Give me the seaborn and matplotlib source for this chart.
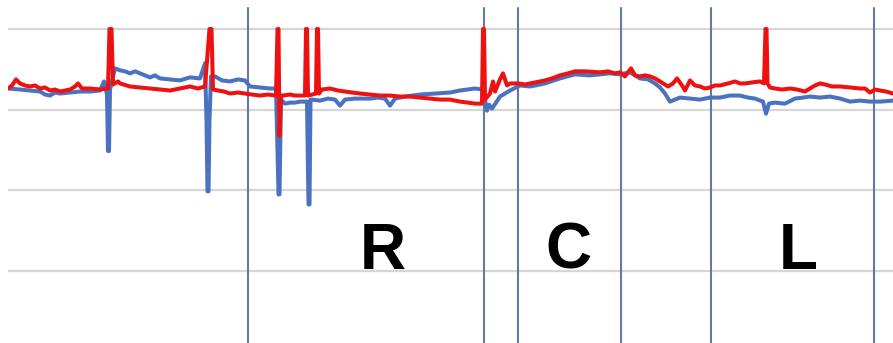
import matplotlib
matplotlib.use("Agg")
import matplotlib.pyplot as plt
import seaborn as sns
import pandas as pd

# ---- data (time index, amplitude) ----
red_t = [8, 12, 16, 20, 25, 30, 35, 40, 45, 50, 55, 60, 65, 70, 75, 78, 82, 90, 100, 108,
         109.5, 110.5, 111.5, 113, 118, 120, 130, 140, 150, 160, 170, 180, 190, 198, 205,
         209.5, 210.5, 211.5, 213, 218, 224, 230, 238, 245, 252, 260, 268, 276,
         277.5, 278.5, 279.5, 281, 283, 290, 295, 300, 305, 306, 307, 308,
         316, 317, 318, 319, 322, 330, 338, 345, 352, 360, 370, 380, 390, 400, 410, 420, 430, 440,
         450, 460, 468, 475, 482, 483, 484, 485,
         490, 493, 495, 500, 503, 507, 510, 518, 525, 530, 540, 545, 552, 560, 568, 575, 585, 600,
         608, 615, 620, 625, 631, 635, 640, 645, 650, 655, 660, 668, 673, 677, 682, 685, 690,
         695, 700, 705, 710, 715, 720, 728, 735, 740, 745, 752, 760, 764, 765.5, 766.5, 767.5,
         770, 775, 782, 790, 797, 805, 815, 820, 825, 832, 840, 850, 860, 865, 870, 875, 880,
         886, 893]
red_v = [181, 184, 190, 186, 184, 183, 184, 181, 182, 179, 180, 178, 179, 180, 183, 186, 181, 181, 180, 181,
         240, 240, 240, 185, 188, 186, 183, 182, 181, 180, 179, 181, 183, 181, 183,
         240, 240, 240, 180, 179, 178, 176, 177, 176, 175, 174, 175, 174,
         240, 240, 134, 174, 174, 175, 174, 174, 174, 240, 240, 174,
         176, 240, 240, 176, 180, 181, 179, 178, 177, 176, 175, 174, 174, 173, 173, 172, 171, 170,
         170, 168, 167, 166, 166, 240, 240, 170,
         176, 188, 178, 190, 196, 184, 186, 186, 185, 186, 188, 189, 191, 194, 196, 198, 198, 197,
         198, 196, 197, 193, 201, 194, 193, 194, 193, 191, 188, 183, 186, 191, 184, 179, 189,
         184, 183, 181, 182, 184, 184, 186, 188, 186, 186, 187, 188, 186, 240, 240, 186,
         182, 181, 180, 181, 180, 178, 184, 186, 185, 183, 183, 182, 181, 181, 177, 180, 179,
         178, 176]

blue_t = [8, 20, 30, 40, 45, 50, 55, 60, 70, 80, 90, 100, 104, 107, 108, 109, 110, 115, 120,
          125, 130, 135, 140, 150, 155, 160, 170, 180, 190, 200, 205,
          206.5, 207.5, 208.5, 209.5, 211, 215, 222, 230, 238, 245, 250, 260, 270, 276,
          277.5, 278.5, 279.5, 281, 285, 290, 295, 300, 305, 307,
          308.5, 309.5, 310.5, 312, 320, 328, 335, 340, 345, 355, 370, 378, 385, 390, 395, 405,
          420, 435, 450, 460, 475, 482, 485, 487, 489, 492, 500, 505, 510, 520, 530, 545, 560,
          575, 590, 600, 610, 620, 630, 640, 648, 655, 660, 665, 670, 675, 680, 690, 700, 710,
          720, 730, 740, 748, 755, 763, 766, 769, 775, 785, 795, 803, 810, 820, 830, 840, 850,
          860, 870, 880, 893]
blue_v = [181, 180, 179, 178, 175, 174, 177, 176, 177, 178, 178, 179, 188, 175, 119, 119, 180, 201, 199,
          198, 196, 198, 196, 192, 194, 191, 190, 189, 192, 191, 206,
          150, 79, 79, 150, 193, 193, 189, 188, 190, 189, 183, 182, 181, 181,
          120, 76, 76, 170, 166, 167, 167, 168, 168, 168,
          66, 66, 170, 170, 169, 171, 170, 164, 170, 171, 171, 172, 171, 164, 171, 173,
          175, 176, 177, 179, 181, 180, 170, 159, 165, 161, 173, 176, 179, 184, 183, 186, 191,
          195, 194, 195, 196, 195, 197, 191, 190, 186, 182, 176, 168, 170, 172, 171, 170, 172,
          172, 174, 174, 172, 171, 168, 156, 166, 167, 166, 171, 172, 173, 172, 173, 171, 168,
          169, 168, 168, 169]

grid_levels = [0, 80, 160, 240]
section_bounds = [248, 484, 518, 621, 711, 874]
section_labels = ["R", "C", "L"]
label_pos = [383, 568, 798]

df = pd.concat([
    pd.DataFrame({"t": blue_t, "v": blue_v, "s": "blue"}),
    pd.DataFrame({"t": red_t, "v": red_v, "s": "red"}),
])

sns.set_theme(style="white")
plt.rcParams['font.family'] = ['Liberation Sans', 'DejaVu Sans']

W, H = 893, 343
fig = plt.figure(figsize=(W / 100, H / 100), dpi=100)
ax = fig.add_axes([8 / W, 0, (W - 8) / W, 1])

scale = 242 / 240.0
ax.set_xlim(8, 893)
ax.set_ylim(-72 / scale, 240 + 29 / scale)

for g in grid_levels:
    ax.axhline(g, color="#d6d6d6", lw=1.6, zorder=0)

top_frac = 1 - 8 / H
for xb in section_bounds:
    ax.axvline(xb, ymin=0, ymax=top_frac, color="#6679a0", lw=1.5, zorder=1)

sns.lineplot(data=df, x="t", y="v", hue="s", palette={"blue": "#4a72c0", "red": "#ee1111"},
             estimator=None, sort=False, linewidth=2.9, legend=False, ax=ax, zorder=3)

for lab, xp in zip(section_labels, label_pos):
    ax.text(xp, 19, lab, ha="center", va="center", fontsize=46, fontweight="bold",
            color="black", zorder=4)

ax.set_axis_off()
fig.savefig("out.png", dpi=100)
